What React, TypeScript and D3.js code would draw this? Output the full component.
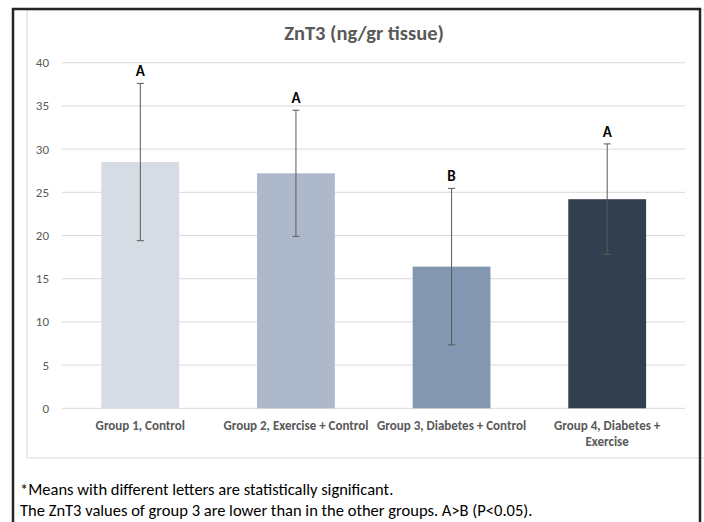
import React from 'react'
import * as d3 from 'd3'

const groups = ['Group 1, Control', 'Group 2, Exercise + Control', 'Group 3, Diabetes + Control', 'Group 4, Diabetes + Exercise']
const groupLines = [['Group 1, Control'], ['Group 2, Exercise + Control'], ['Group 3, Diabetes + Control'], ['Group 4, Diabetes +', 'Exercise']]
const means = [28.5, 27.2, 16.4, 24.2]
const sds = [9.1, 7.3, 9.05, 6.4]
const letters = ['A', 'A', 'B', 'A']
const colors = ['#d6dce4', '#adb9ca', '#8497b0', '#323f4f']
const yTicks = [0, 5, 10, 15, 20, 25, 30, 35, 40]
const title = 'ZnT3 (ng/gr tissue)'
const notes = [
    '*Means with different letters are statistically significant.',
    'The ZnT3 values of group 3 are lower than in the other groups. A>B (P<0.05).'
]

const W = 704
const H = 522
const font = 'Calibri, Carlito, Lato, sans-serif'

export default function App() {
    const x = d3.scaleBand().domain(groups).range([62.5, 685]).paddingInner(0.5).paddingOuter(0.25)
    const y = d3.scaleLinear().domain([0, 40]).range([408.3, 62.7])
    const bw = x.bandwidth()

    return (
        <svg width={W} height={H} style={{ position: 'absolute', left: 0, top: 0, background: '#fff' }}>
            {/* inner chart area */}
            <rect x={27} y={10} width={690} height={448} fill="#fff" stroke="#d9d9d9" strokeWidth={1} />
            {/* outer frame */}
            <path d={`M13,${H + 5} L13,9 L700,9 L700,${H + 5}`} fill="none" stroke="#262626" strokeWidth={2.5} />

            <text x={364} y={40} textAnchor="middle" fontFamily={font} fontWeight="bold" fontSize={20.5} fill="#595959">{title}</text>

            {yTicks.map(t => (
                <g key={t}>
                    <line x1={62} x2={685} y1={y(t)} y2={y(t)} stroke="#d9d9d9" strokeWidth={1} />
                    <text x={49} y={y(t) + 4.5} textAnchor="end" fontFamily={font} fontSize={13} fill="#595959">{t}</text>
                </g>
            ))}

            {groups.map((g, i) => {
                const cx = (x(g) as number) + bw / 2
                const top = y(means[i] + sds[i])
                const bot = y(means[i] - sds[i])
                return (
                    <g key={g}>
                        <rect x={x(g)} y={y(means[i])} width={bw} height={y(0) - y(means[i])} fill={colors[i]} />
                        <line x1={cx} x2={cx} y1={top} y2={bot} stroke="#595959" strokeWidth={1} />
                        <line x1={cx - 3.5} x2={cx + 3.5} y1={top} y2={top} stroke="#595959" strokeWidth={1} />
                        <line x1={cx - 3.5} x2={cx + 3.5} y1={bot} y2={bot} stroke="#595959" strokeWidth={1} />
                        <text x={cx} y={top - 7} textAnchor="middle" fontFamily={font} fontWeight="bold" fontSize={15} fill="#000">{letters[i]}</text>
                        {groupLines[i].map((ln, j) => (
                            <text key={j} x={cx} y={430 + j * 16} textAnchor="middle" fontFamily={font} fontWeight="bold" fontSize={13} fill="#595959">{ln}</text>
                        ))}
                    </g>
                )
            })}

            {notes.map((n, i) => (
                <text key={i} x={20} y={495 + i * 21} fontFamily={font} fontSize={16.5} fill="#000">{n}</text>
            ))}
        </svg>
    )
}
